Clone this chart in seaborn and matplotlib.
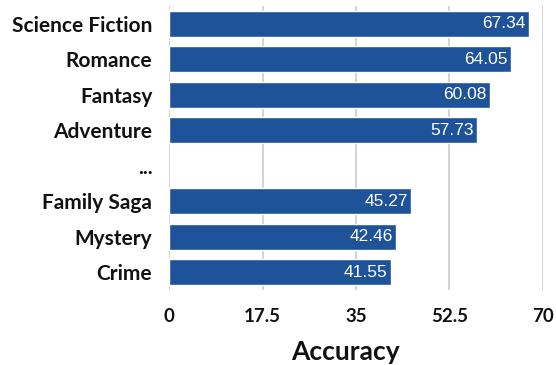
import matplotlib
matplotlib.use("Agg")
import matplotlib.pyplot as plt
import seaborn as sns
import pandas as pd
import numpy as np

categories = ["Science Fiction", "Romance", "Fantasy", "Adventure", "...", "Family Saga", "Mystery", "Crime"]
accuracy = [67.34, 64.05, 60.08, 57.73, np.nan, 45.27, 42.46, 41.55]
xticks = [0, 17.5, 35, 52.5, 70]
xtick_labels = ["0", "17.5", "35", "52.5", "70"]

sns.set_theme(style="white")
plt.rcParams["font.family"] = ["Lato", "DejaVu Sans"]

df = pd.DataFrame({"Genre": categories, "Accuracy": accuracy})

fig = plt.figure(figsize=(5.56, 3.65), dpi=100)
ax = fig.add_axes([0.304, 0.2055, 0.6726, 0.778])

sns.barplot(data=df, x="Accuracy", y="Genre", orient="h", color="#1f5399",
            saturation=1, width=0.73, ax=ax, order=categories)

ax.set_xlim(0, 70)
ax.set_ylim(7.5, -0.5)
ax.set_xticks(xticks)
ax.set_xticklabels(xtick_labels, fontsize=13.5, fontweight="bold", color="#111111")
ax.set_yticks(range(len(categories)))
ax.set_yticklabels(categories, fontsize=15, fontweight="bold", color="#111111")
ax.tick_params(axis="x", length=0, pad=13)
ax.tick_params(axis="y", length=0, pad=12)
ax.set_ylabel("")
ax.set_xlabel("Accuracy", fontsize=19, fontweight="bold", color="#111111", labelpad=11)
ax.xaxis.label.set_x(0.473)

ax.xaxis.grid(True, color="#d0d0d0", linewidth=1.3)
ax.set_axisbelow(True)
for s in ax.spines.values():
    s.set_visible(False)

for i, v in enumerate(accuracy):
    if not np.isnan(v):
        ax.text(v - 0.6, i, f"{v:.2f}", ha="right", va="center", color="white",
                fontsize=12.5, family=["Liberation Sans", "DejaVu Sans"])

fig.savefig("out.png", dpi=100)
